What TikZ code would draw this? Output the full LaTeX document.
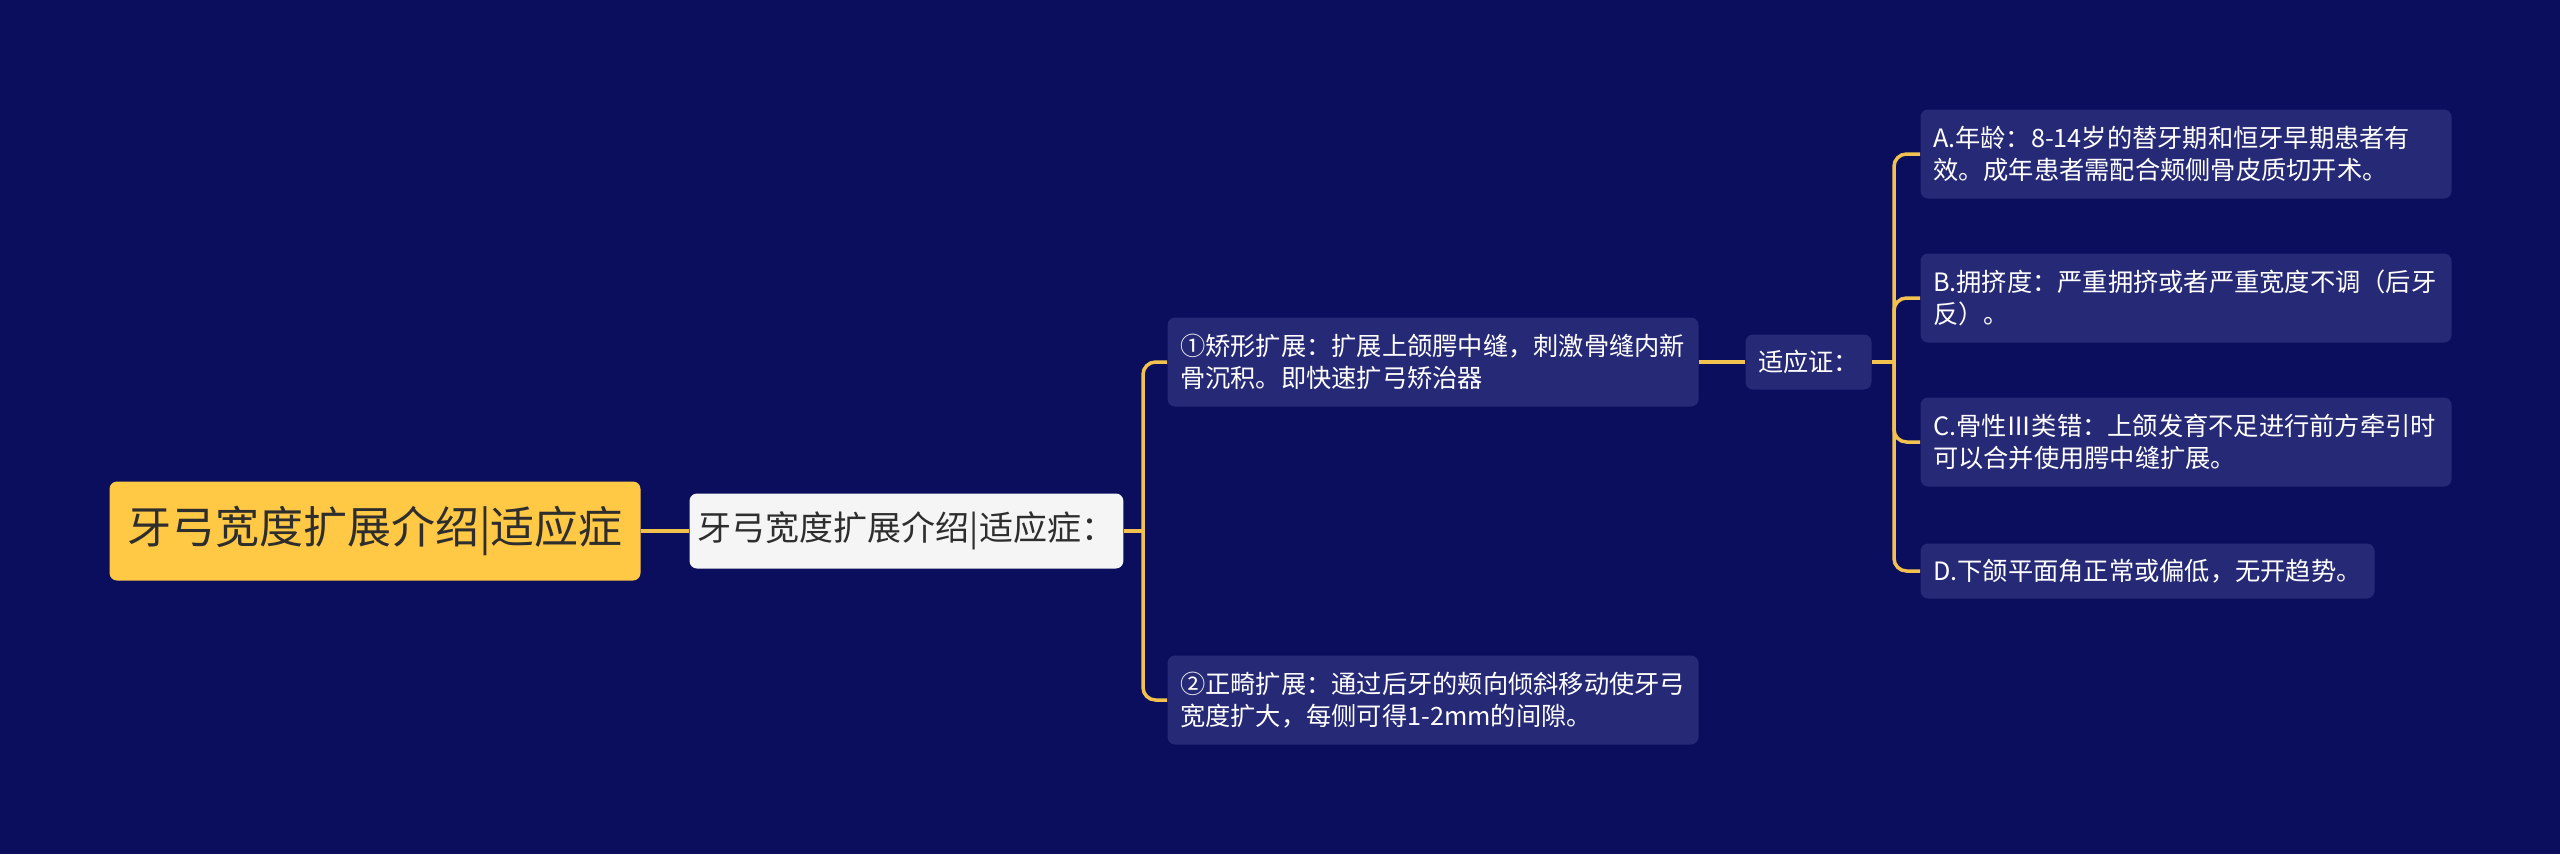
\documentclass[tikz,border=0pt]{standalone}
\usepackage{fontspec}
\setmainfont{Noto Sans CJK SC}
\usepackage{tikz}

\definecolor{bgnavy}{HTML}{0A0E5C}
\definecolor{boxnavy}{HTML}{262A76}
\definecolor{rootyellow}{HTML}{FFC845}
\definecolor{linkyellow}{HTML}{F2C14E}
\definecolor{darktext}{HTML}{2E2E2E}

\tikzset{
  rootbox/.style={fill=rootyellow, text=darktext, rounded corners=3pt, anchor=west,
    minimum width=212.4pt, minimum height=39.6pt, font=\fontsize{17.6}{20}\selectfont},
  subbox/.style={fill=white!96!black, text=darktext, rounded corners=3pt, anchor=west,
    minimum width=172.4pt, minimum height=30pt, font=\fontsize{13.6}{16}\selectfont},
  leafbox/.style={fill=boxnavy, text=white, rounded corners=3pt, anchor=west,
    inner xsep=5pt, font=\fontsize{10.1}{13}\selectfont},
  twoline/.style={leafbox, align=left, text width=202.4pt, minimum height=35.6pt},
  link/.style={draw=linkyellow, line width=1.4pt},
  branchlink/.style={link, rounded corners=5pt},
}

\begin{document}
\begin{tikzpicture}[x=0.4pt, y=-0.4pt]

        %Background
        \fill [bgnavy] (0,0) rectangle (2560,854);
        \useasboundingbox (0,0) rectangle (2560,854);

        %Root and first level
        \node [rootbox] (root) at (109,531) {牙弓宽度扩展介绍|适应症};
        \node [subbox]  (sub)  at (689,531) {牙弓宽度扩展介绍|适应症：};

        %Second level
        \node [twoline] (rapid) at (1167,362) {①矫形扩展：扩展上颌腭中缝，刺激骨缝内新\\骨沉积。即快速扩弓矫治器};
        \node [twoline] (slow)  at (1167,700) {②正畸扩展：通过后牙的颊向倾斜移动使牙弓\\宽度扩大，每侧可得1-2mm的间隙。};

        %Indication
        \node [leafbox, minimum width=50.4pt, minimum height=22pt] (ind) at (1745,362) {适应证：};

        \node [twoline] (a) at (1920,154) {A.年龄：8-14岁的替牙期和恒牙早期患者有\\效。成年患者需配合颊侧骨皮质切开术。};
        \node [twoline] (b) at (1920,298) {B.拥挤度：严重拥挤或者严重宽度不调（后牙\\反）。};
        \node [twoline] (c) at (1920,442) {C.骨性Ⅲ类错：上颌发育不足进行前方牵引时\\可以合并使用腭中缝扩展。};
        \node [leafbox, minimum width=181.6pt, minimum height=22pt] (d) at (1920,571) {D.下颌平面角正常或偏低，无开趋势。};

        %Connectors
        \coordinate (t1) at (1143,531);
        \coordinate (t2) at (1894,362);

        \draw [link]        (root) -- (sub);
        \draw [link]        (sub)  -- (t1);
        \draw [branchlink]  (t1) |- (rapid.west);
        \draw [branchlink]  (t1) |- (slow.west);

        \draw [link]        (rapid) -- (ind);
        \draw [link]        (ind)   -- (t2);
        \foreach \leaf in {a,b,c,d}
          \draw [branchlink] (t2) |- (\leaf.west);

\end{tikzpicture}
\end{document}
